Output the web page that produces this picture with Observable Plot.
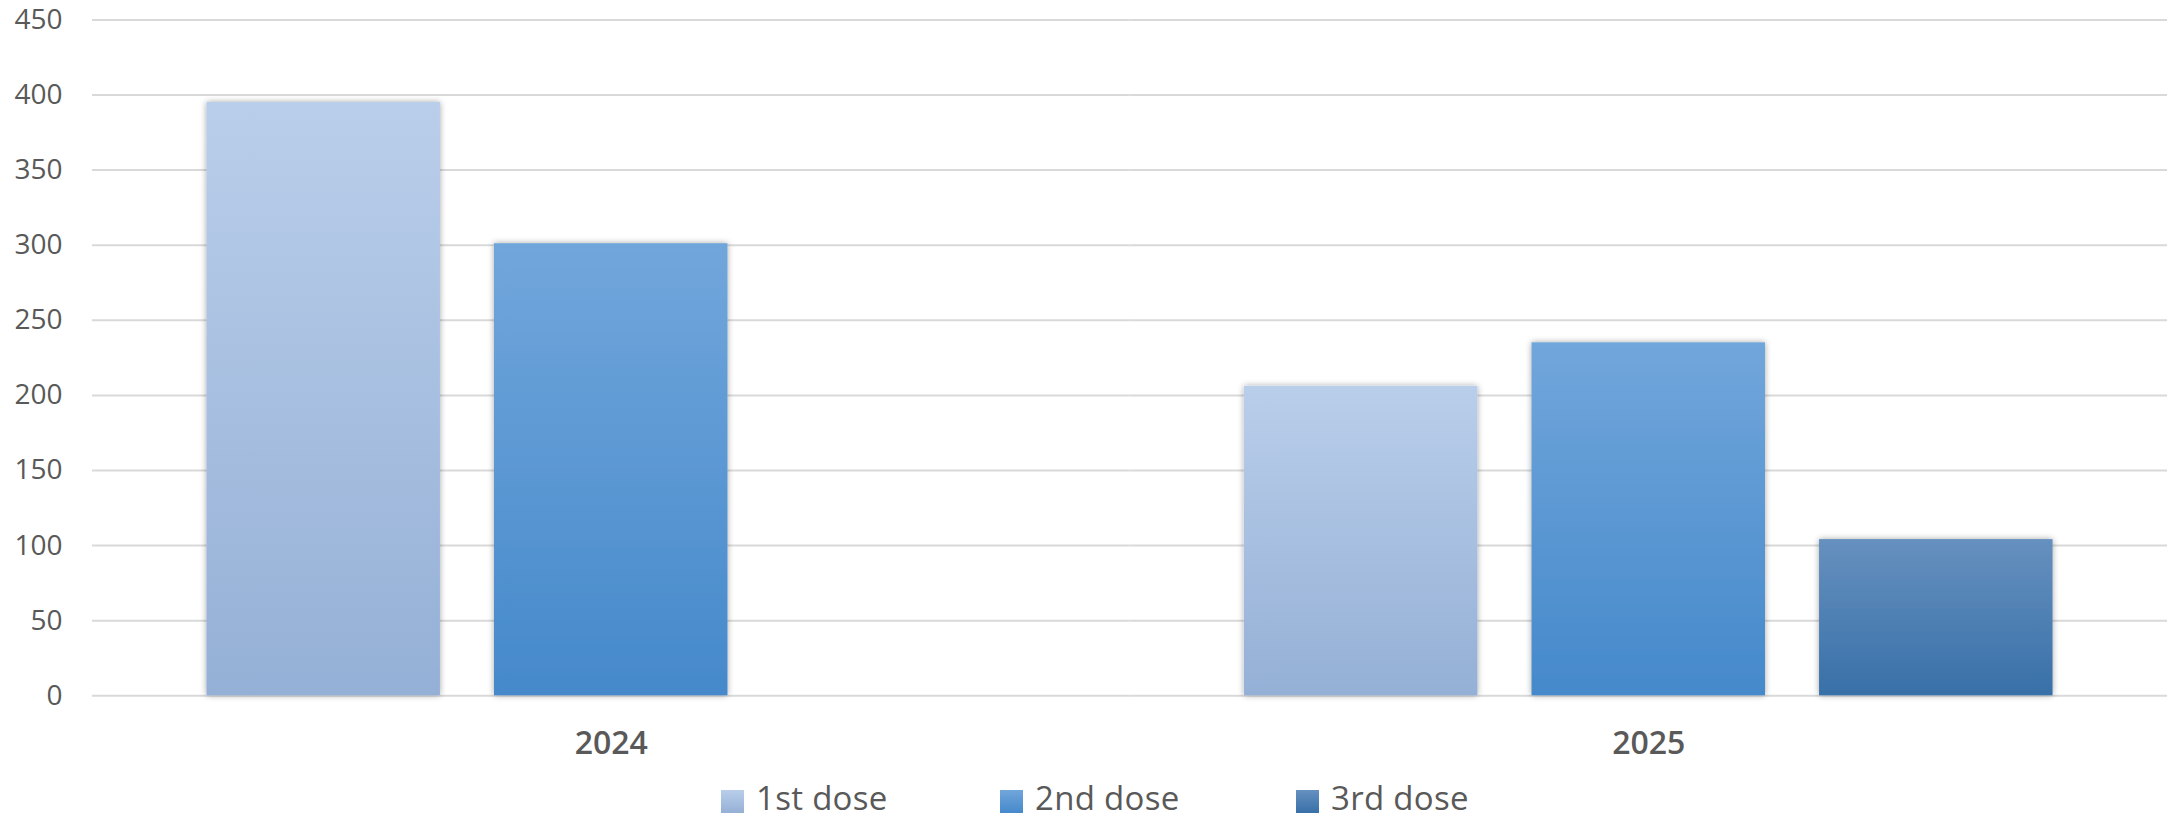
<!DOCTYPE html>
<html>
<head>
<meta charset="utf-8">
<script src="https://cdn.jsdelivr.net/npm/d3@7"></script>
<script src="https://cdn.jsdelivr.net/npm/@observablehq/plot@0.6"></script>
<style>
  html, body { margin: 0; padding: 0; background: #fff; }
  body { width: 2170px; height: 821px; overflow: hidden; font-family: "Open Sans", sans-serif; }
  #legend { position: relative; width: 2170px; height: 51px; }
  .item { position: absolute; top: 12px; height: 31px; display: flex; align-items: center; }
  .sw { width: 23px; height: 23px; margin-right: 12px; position: relative; top: 4px; }
  .lab { font-size: 33px; color: #595959; line-height: 31px; white-space: nowrap; letter-spacing: 0.3px; }
</style>
</head>
<body>
<div id="chart"></div>
<div id="legend"></div>
<script>
// ---- data ----
const years = ["2024", "2025"];
const doses = ["1st dose", "2nd dose", "3rd dose"];
const values2024 = [395, 301, null];
const values2025 = [206, 235, 104];
const yTicks = [0, 50, 100, 150, 200, 250, 300, 350, 400, 450];
const gradTop = ["#B9CEEA", "#71A6DB", "#6690BF"];
const gradBottom = ["#95B0D6", "#4589CB", "#3870A8"];

const rows = [];
[values2024, values2025].forEach((vals, yi) => {
  vals.forEach((v, di) => {
    if (v != null) rows.push({year: years[yi], dose: doses[di], value: v});
  });
});

const chart = Plot.plot({
  width: 2170,
  height: 770,
  marginTop: 19.4,
  marginBottom: 74.7,
  marginLeft: 92,
  marginRight: 3,
  style: {fontFamily: "'Open Sans', sans-serif", background: "#fff", color: "#595959"},
  fx: {domain: years, padding: 0, round: false, label: null},
  x: {domain: doses, paddingInner: 0.188, paddingOuter: 0.398, round: false, axis: null},
  y: {domain: [0, 450], label: null},
  color: {type: "identity"},
  marks: [
    Plot.gridY(yTicks, {stroke: "#d9d9d9", strokeOpacity: 1, strokeWidth: 2}),
    Plot.axisY(yTicks, {tickSize: 0, tickPadding: 30, fontSize: 28, fill: "#595959", label: null}),
    Plot.axisFx({anchor: "bottom", tickSize: 0, tickPadding: 35, fontSize: 32, fontWeight: 600, fill: "#595959", label: null}),
    Plot.barY(rows, {fx: "year", x: "dose", y: "value", fill: d => "url(#grad" + doses.indexOf(d.dose) + ")"})
  ]
});

// gradients + shadow
const svg = d3.select(chart);
const defs = svg.insert("defs", ":first-child");
doses.forEach((d, i) => {
  const g = defs.append("linearGradient").attr("id", "grad" + i)
    .attr("x1", 0).attr("y1", 0).attr("x2", 0).attr("y2", 1);
  g.append("stop").attr("offset", "0%").attr("stop-color", gradTop[i]);
  g.append("stop").attr("offset", "100%").attr("stop-color", gradBottom[i]);
});
const f = defs.append("filter").attr("id", "shadow")
  .attr("x", "-10%").attr("y", "-5%").attr("width", "120%").attr("height", "110%");
f.append("feDropShadow").attr("dx", 0).attr("dy", 0).attr("stdDeviation", 3)
  .attr("flood-color", "#000").attr("flood-opacity", 0.35);
svg.selectAll('g[aria-label="bar"] rect').attr("filter", "url(#shadow)");

document.getElementById("chart").appendChild(chart);

// legend
const legend = document.getElementById("legend");
const legendX = [721, 1000, 1296];
doses.forEach((d, i) => {
  const it = document.createElement("div");
  it.className = "item";
  it.style.left = legendX[i] + "px";
  const sw = document.createElement("div");
  sw.className = "sw";
  sw.style.background = `linear-gradient(${gradTop[i]}, ${gradBottom[i]})`;
  const lab = document.createElement("span");
  lab.className = "lab";
  lab.textContent = d;
  it.appendChild(sw);
  it.appendChild(lab);
  legend.appendChild(it);
});
</script>
</body>
</html>
